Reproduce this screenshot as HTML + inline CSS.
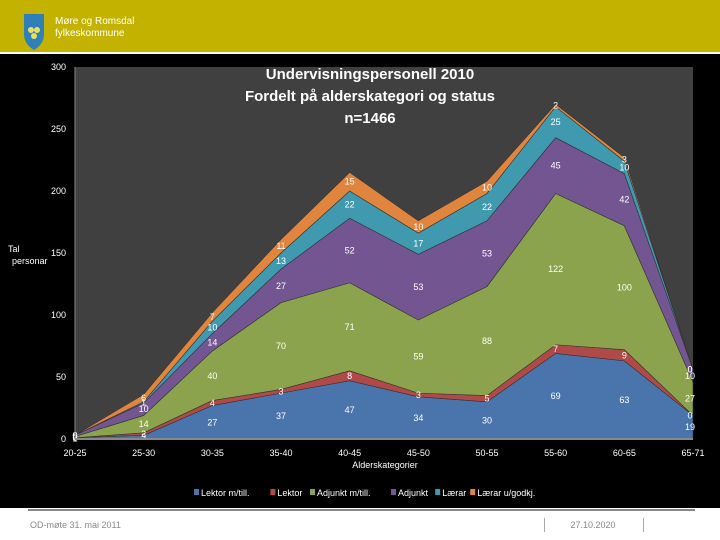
<!DOCTYPE html>
<html><head><meta charset="utf-8">
<style>
html,body{margin:0;padding:0;width:720px;height:540px;overflow:hidden;background:#fff;font-family:"Liberation Sans",sans-serif;}
</style></head>
<body>
<svg width="720" height="540" viewBox="0 0 720 540" xmlns="http://www.w3.org/2000/svg">
<rect x="0" y="0" width="720" height="52" fill="#c3b300"/>
<g>
<path d="M24 14 L44 14 L44 34 Q44 44 34 50 Q24 44 24 34 Z" fill="#2f7fb8"/>
<circle cx="31" cy="30" r="3" fill="#e8e060"/><circle cx="37" cy="30" r="3" fill="#e8e060"/><circle cx="34" cy="36" r="3" fill="#e8e060"/>
</g>
<text x="55" y="24" font-size="10" fill="#fff">Møre og Romsdal</text>
<text x="55" y="36" font-size="10" fill="#fff">fylkeskommune</text>
<rect x="0" y="54" width="720" height="454" fill="#000"/>
<rect x="75" y="67" width="618" height="372" fill="#404040"/>
<g id="areas"></g>
<g id="labels"></g>
<g id="axes"></g>
<text x="370" y="79" font-size="15" font-weight="bold" fill="#fff" text-anchor="middle">Undervisningspersonell 2010</text>
<text x="370" y="101" font-size="15" font-weight="bold" fill="#fff" text-anchor="middle">Fordelt på alderskategori og status</text>
<text x="370" y="123" font-size="15" font-weight="bold" fill="#fff" text-anchor="middle">n=1466</text>
<text x="8" y="252" font-size="9" fill="#fff">Tal</text>
<text x="12" y="264" font-size="9" fill="#fff">personar</text>
<text x="385" y="468" font-size="9" fill="#fff" text-anchor="middle">Alderskategorier</text>
<g id="legend"></g>
<rect x="28" y="509" width="667" height="2" fill="#888"/>
<text x="30" y="528" font-size="9" fill="#888">OD-møte 31. mai 2011</text>
<rect x="544" y="518" width="1" height="14" fill="#aaa"/>
<text x="593" y="528" font-size="9" fill="#888" text-anchor="middle">27.10.2020</text>
<rect x="643" y="518" width="1" height="14" fill="#aaa"/>
</svg>
<script>
const categories=["20-25","25-30","30-35","35-40","40-45","45-50","50-55","55-60","60-65","65-71"];
const seriesNames=["Lektor m/till.","Lektor","Adjunkt m/till.","Adjunkt","Lærar","Lærar u/godkj."];
const lektorMTill=[1,3,27,37,47,34,30,69,63,19];
const lektor=[0,2,4,3,8,3,5,7,9,0];
const adjunktMTill=[1,14,40,70,71,59,88,122,100,27];
const adjunkt=[1,10,14,27,52,53,53,45,42,10];
const laerar=[0,1,10,13,22,17,22,25,10,0];
const laerarUGodkj=[0,6,7,11,15,10,10,2,3,0];
const yTicks=[0,50,100,150,200,250,300];
const colors=["#4a74ac","#b04a48","#8aa34c","#735591","#3f9ab0","#e0843e"];
const series=[lektorMTill,lektor,adjunktMTill,adjunkt,laerar,laerarUGodkj];
const NS="http://www.w3.org/2000/svg";
function xs(i){return 75+i*(693-75)/(categories.length-1);}
function ys(v){return 439-v*(372/300);}
const areas=document.getElementById('areas'),labels=document.getElementById('labels'),axes=document.getElementById('axes'),legend=document.getElementById('legend');
let base=categories.map(()=>0);
series.forEach((s,k)=>{
  const top=base.map((b,i)=>b+s[i]);
  let d="M"+categories.map((c,i)=>xs(i)+","+ys(top[i])).join(" L");
  for(let i=categories.length-1;i>=0;i--) d+=" L"+xs(i)+","+ys(base[i]);
  d+=" Z";
  const p=document.createElementNS(NS,'path');
  p.setAttribute('d',d);p.setAttribute('fill',colors[k]);p.setAttribute('stroke','#333');p.setAttribute('stroke-width','0.6');
  
  
  areas.appendChild(p);
  s.forEach((v,i)=>{
    const t=document.createElementNS(NS,'text');
    t.setAttribute('x',xs(i)+(i===9?-3:0));t.setAttribute('y',ys(base[i]+v/2)+3);
    t.setAttribute('font-size','9');t.setAttribute('fill','#fff');t.setAttribute('text-anchor','middle');
    t.textContent=v;
    
    
    labels.appendChild(t);
  });
  base=top;
});
const ax=document.createElementNS(NS,'line');
ax.setAttribute('x1',75);ax.setAttribute('x2',693);ax.setAttribute('y1',439);ax.setAttribute('y2',439);ax.setAttribute('stroke','#888');ax.setAttribute('stroke-width','2');


axes.appendChild(ax);
const ay=document.createElementNS(NS,'line');
ay.setAttribute('x1',75);ay.setAttribute('x2',75);ay.setAttribute('y1',67);ay.setAttribute('y2',439);ay.setAttribute('stroke','#888');ay.setAttribute('stroke-width','1');


axes.appendChild(ay);
yTicks.forEach(v=>{
  const t=document.createElementNS(NS,'text');
  t.setAttribute('x',66);t.setAttribute('y',ys(v)+3);t.setAttribute('font-size','9');t.setAttribute('fill','#fff');t.setAttribute('text-anchor','end');
  t.textContent=v;
  
  
  axes.appendChild(t);
});
categories.forEach((c,i)=>{
  const t=document.createElementNS(NS,'text');
  t.setAttribute('x',xs(i));t.setAttribute('y',456);t.setAttribute('font-size','9');t.setAttribute('fill','#fff');t.setAttribute('text-anchor','middle');
  t.textContent=c;
  
  
  axes.appendChild(t);
});
let lx=194;
seriesNames.forEach((n,k)=>{
  const g=document.createElementNS(NS,'g');
  
  
  const r=document.createElementNS(NS,'rect');
  r.setAttribute('x',lx);r.setAttribute('y',489);r.setAttribute('width',5);r.setAttribute('height',6);r.setAttribute('fill',colors[k]);
  g.appendChild(r);
  const t=document.createElementNS(NS,'text');
  t.setAttribute('x',lx+7);t.setAttribute('y',496);t.setAttribute('font-size','9');t.setAttribute('fill','#fff');
  t.textContent=n;
  g.appendChild(t);
  legend.appendChild(g);
  lx+=12+n.length*4.6;
});
</script>
</body></html>
